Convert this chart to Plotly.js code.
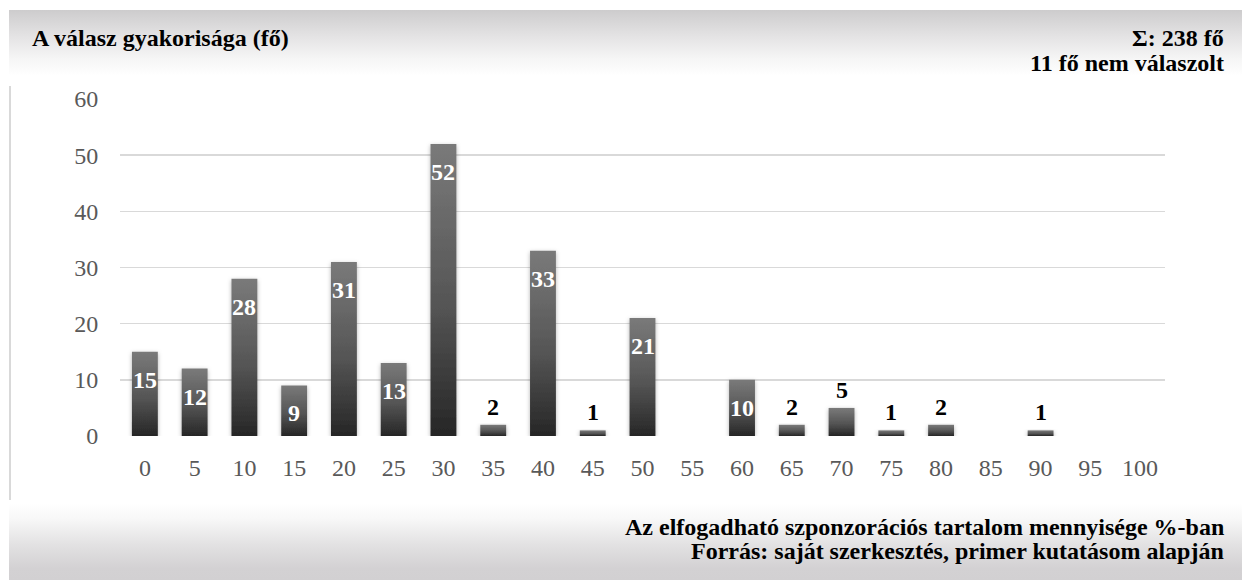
<!DOCTYPE html>
<html>
<head>
<meta charset="utf-8">
<script src="https://cdn.plot.ly/plotly-3.0.1.min.js"></script>
<style>
  html, body { margin: 0; padding: 0; background: #ffffff; }
  #wrap {
    position: relative;
    width: 1242px;
    height: 580px;
    background:
      linear-gradient(to bottom, #cdcccd 0%, #e4e3e4 40%, #f6f6f6 75%, #ffffff 100%) 9px 10px / 1233px 66px no-repeat,
      linear-gradient(to bottom, #ffffff 0%, #f8f8f8 20%, #e2e1e2 55%, #d3d1d3 85%, #d2d0d2 100%) 9px 503px / 1233px 77px no-repeat,
      #ffffff;
  }
  #chart { position: absolute; left: 0; top: 0; width: 1242px; height: 580px; }
</style>
</head>
<body>
<div id="wrap"><div id="chart"></div></div>
<script>
// Acceptable share of sponsored content (%) and number of respondents per answer
const categories = ['0','5','10','15','20','25','30','35','40','45','50','55','60','65','70','75','80','85','90','95','100'];
const respondents = [15, 12, 28, 9, 31, 13, 52, 2, 33, 1, 21, 0, 10, 2, 5, 1, 2, 0, 1, 0, 0];
const yTicks = [0, 10, 20, 30, 40, 50, 60];

const headerLeft = 'A válasz gyakorisága (fő)';
const headerRight = ['Σ: 238 fő', '11 fő nem válaszolt'];
const footerLines = ['Az elfogadható szponzorációs tartalom mennyisége %-ban', 'Forrás: saját szerkesztés, primer kutatásom alapján'];

// plot area in pixels
const W = 1242, H = 580;
const M = { l: 120, r: 77, t: 99, b: 144 };
const PW = W - M.l - M.r, PH = H - M.t - M.b;
const px = x => (x - M.l) / PW;
const py = y => (M.t + PH - y) / PH;

const serif = '"Liberation Serif", "Times New Roman", Times, serif';

// value labels: white inside tall bars, black above short ones
const labelInsideMin = 8;
const valueLabels = [];
respondents.forEach((v, i) => {
  if (v <= 0) return;
  const inside = v >= labelInsideMin;
  valueLabels.push({
    x: i, y: v, xref: 'x', yref: 'y',
    text: '<b>' + v + '</b>', showarrow: false,
    yanchor: 'middle', yshift: inside ? -28 : 18,
    font: { family: serif, size: 24, color: inside ? '#ffffff' : '#000000' }
  });
});

const textNotes = [
  { x: px(30), y: py(38), xanchor: 'left', text: '<b>' + headerLeft + '</b>' },
  { x: px(1226), y: py(38), xanchor: 'right', text: '<b>' + headerRight[0] + '</b>' },
  { x: px(1226), y: py(63), xanchor: 'right', text: '<b>' + headerRight[1] + '</b>' },
  { x: px(1226), y: py(527), xanchor: 'right', text: '<b>' + footerLines[0] + '</b>' },
  { x: px(1226), y: py(551), xanchor: 'right', text: '<b>' + footerLines[1] + '</b>' }
].map(a => ({
  x: a.x, y: a.y, xref: 'paper', yref: 'paper', xanchor: a.xanchor, yanchor: 'middle',
  text: a.text, showarrow: false,
  font: { family: serif, size: 24, color: '#000000' }
}));

const trace = {
  type: 'bar',
  x: categories,
  y: respondents,
  width: 0.52,
  marker: { color: '#555555', line: { width: 0 } },
  hoverinfo: 'skip'
};

const layout = {
  width: W, height: H,
  margin: M,
  paper_bgcolor: 'rgba(0,0,0,0)',
  plot_bgcolor: 'rgba(0,0,0,0)',
  showlegend: false,
  font: { family: serif, color: '#595959', size: 24 },
  xaxis: {
    type: 'category',
    categoryorder: 'array', categoryarray: categories,
    range: [-0.5, categories.length - 0.5],
    showgrid: false, zeroline: false, showline: false,
    ticks: 'outside', ticklen: 10, tickcolor: 'rgba(0,0,0,0)',
    tickfont: { family: serif, size: 24, color: '#595959' }
  },
  yaxis: {
    range: [0, 60],
    tickvals: yTicks,
    showgrid: true, gridcolor: '#d9d9d9', gridwidth: 1.6,
    zeroline: false, showline: false,
    ticks: 'outside', ticklen: 16, tickcolor: 'rgba(0,0,0,0)',
    tickfont: { family: serif, size: 24, color: '#595959' }
  },
  shapes: [
    { type: 'line', xref: 'paper', yref: 'paper',
      x0: px(10), x1: px(10), y0: py(86), y1: py(500),
      line: { color: '#d9d9d9', width: 2 } }
  ],
  annotations: valueLabels.concat(textNotes)
};

Plotly.newPlot('chart', [trace], layout, { displayModeBar: false, staticPlot: true }).then(gd => {
  // vertical shading and soft shadow on each bar
  const svg = gd.querySelector('.main-svg');
  const NS = 'http://www.w3.org/2000/svg';
  let defs = svg.querySelector('defs');
  if (!defs) { defs = document.createElementNS(NS, 'defs'); svg.insertBefore(defs, svg.firstChild); }

  const grad = document.createElementNS(NS, 'linearGradient');
  grad.setAttribute('id', 'barShade');
  grad.setAttribute('x1', '0'); grad.setAttribute('y1', '0');
  grad.setAttribute('x2', '0'); grad.setAttribute('y2', '1');
  [['0', '#7a7a7a'], ['0.55', '#555555'], ['1', '#262626']].forEach(([o, c]) => {
    const s = document.createElementNS(NS, 'stop');
    s.setAttribute('offset', o); s.setAttribute('stop-color', c);
    grad.appendChild(s);
  });
  defs.appendChild(grad);

  const filt = document.createElementNS(NS, 'filter');
  filt.setAttribute('id', 'barShadow');
  filt.setAttribute('x', '-40%'); filt.setAttribute('y', '-10%');
  filt.setAttribute('width', '180%'); filt.setAttribute('height', '130%');
  const ds = document.createElementNS(NS, 'feDropShadow');
  ds.setAttribute('dx', '0'); ds.setAttribute('dy', '1.5');
  ds.setAttribute('stdDeviation', '2.2');
  ds.setAttribute('flood-color', '#000000'); ds.setAttribute('flood-opacity', '0.3');
  filt.appendChild(ds);
  defs.appendChild(filt);

  gd.querySelectorAll('.bars .point path').forEach(p => {
    p.style.fill = 'url(#barShade)';
    p.setAttribute('filter', 'url(#barShadow)');
  });
});
</script>
</body>
</html>
